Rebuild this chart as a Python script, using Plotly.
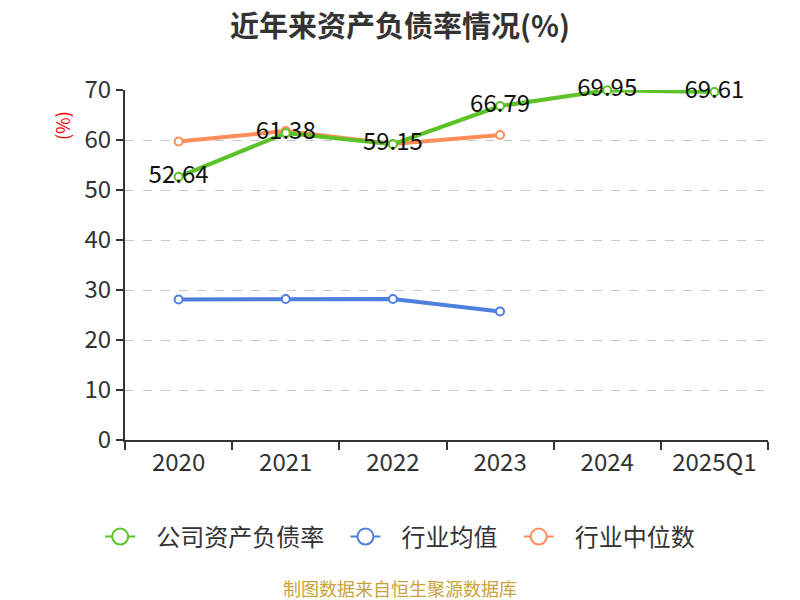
import plotly.graph_objects as go

categories = ["2020", "2021", "2022", "2023", "2024", "2025Q1"]
company = [52.64, 61.38, 59.15, 66.79, 69.95, 69.61]
industry_avg = [28.1, 28.2, 28.2, 25.7]
industry_median = [59.7, 61.8, 59.2, 61.0]
y_ticks = [0, 10, 20, 30, 40, 50, 60, 70]
names = ["公司资产负债率", "行业均值", "行业中位数"]

FONT = "Noto Sans CJK SC"
green = "#5cc227"
blue = "#4d7fdf"
orange = "#ff8d57"
NB = "\u00a0"

fig = go.Figure()
fig.add_trace(go.Scatter(
    x=categories[:4], y=industry_avg, showlegend=False,
    mode="lines+markers",
    line=dict(color=blue, width=4),
    marker=dict(size=8, color="white", line=dict(color=blue, width=2)),
))
fig.add_trace(go.Scatter(
    x=categories[:4], y=industry_median, showlegend=False,
    mode="lines+markers",
    line=dict(color=orange, width=4),
    marker=dict(size=8, color="white", line=dict(color=orange, width=2)),
))
fig.add_trace(go.Scatter(
    x=categories, y=company, showlegend=False,
    mode="lines+markers+text",
    line=dict(color=green, width=4),
    marker=dict(size=8, color="white", line=dict(color=green, width=2)),
    text=[f"{v:.2f}" for v in company], textposition="middle center",
    textfont=dict(size=24, color="#111", family=FONT),
    cliponaxis=False,
))
# legend entries
for i, (nm, col) in enumerate(zip(names, [green, blue, orange])):
    label = NB * 3 + nm + (NB * 3 if i < 2 else "")
    fig.add_trace(go.Scatter(
        x=[None], y=[None], name=label, mode="lines+markers",
        line=dict(color=col, width=2),
        marker=dict(size=16, color="white", line=dict(color=col, width=2)),
    ))

fig.update_layout(
    width=800, height=600,
    paper_bgcolor="white", plot_bgcolor="white",
    margin=dict(l=117, r=40, t=82, b=168),
    font=dict(family=FONT, color="#333"),
    title=dict(text="<b>近年来资产负债率情况(%)</b>", x=0.49, xanchor="center", y=0.968, yanchor="middle",
               font=dict(size=29, color="#333", family=FONT)),
    showlegend=True,
    legend=dict(orientation="h", x=0.428, xanchor="center", y=-0.277, yanchor="middle",
                font=dict(size=24, color="#333", family=FONT), traceorder="normal"),
    xaxis=dict(type="category", categoryorder="array", categoryarray=categories,
               showline=True, linecolor="#333", linewidth=2,
               ticks="outside", ticklen=8, tickcolor="#333", tickwidth=2,
               tickson="boundaries", showgrid=False,
               tickfont=dict(size=24, color="#333", family=FONT), range=[-0.5, 5.5]),
    yaxis=dict(range=[0, 70], tickvals=y_ticks, showline=True, linecolor="#333", linewidth=2,
               ticks="outside", ticklen=7, tickcolor="#333", tickwidth=2,
               showgrid=True, gridcolor="#c8c8c8", griddash="dash", gridwidth=1,
               zeroline=False,
               tickfont=dict(size=24, color="#333", family=FONT)),
    annotations=[
        dict(text="(%)", xref="paper", yref="paper", x=-0.098, y=0.9, textangle=-90,
             xanchor="center", yanchor="middle",
             showarrow=False, font=dict(size=18, color="red", family=FONT)),
        dict(text="制图数据来自恒生聚源数据库", xref="paper", yref="paper", x=0.428, y=-0.423,
             xanchor="center", yanchor="middle",
             showarrow=False, font=dict(size=18, color="#c9a23a", family=FONT)),
    ],
)

fig.write_html("out.html")
